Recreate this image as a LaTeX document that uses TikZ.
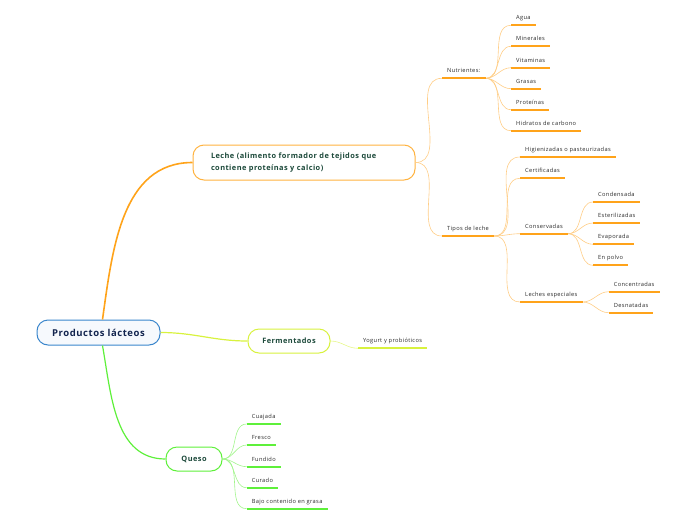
\documentclass[tikz,border=0pt]{standalone}
\usepackage{fontspec}
\setmainfont{Open Sans}[LetterSpace=6]
\usepackage{xcolor}
\usetikzlibrary{arrows.meta,positioning}

\definecolor{rootblue}{HTML}{3A86CC}
\definecolor{rootfill}{HTML}{F6F9FD}
\definecolor{rootink}{HTML}{13254F}
\definecolor{mainink}{HTML}{1D4A3B}
\definecolor{subink}{HTML}{2A2A2A}
\definecolor{orline}{HTML}{FFA31A}
\definecolor{orbox}{HTML}{FFB340}
\definecolor{ortwig}{HTML}{FFCD85}
\definecolor{ferline}{HTML}{D8F23E}
\definecolor{fertwig}{HTML}{E6F78A}
\definecolor{qline}{HTML}{5EF03A}
\definecolor{qtwig}{HTML}{A2F58C}

\begin{document}
\begin{tikzpicture}[
  x=1pt, y=-1pt,
  root/.style={draw=rootblue, line width=1pt, rounded corners=11pt, fill=rootfill, minimum width=123pt, minimum height=25pt, font=\fontsize{9.5}{11}\selectfont\bfseries, text=rootink},
  topic/.style={draw=#1, line width=1pt, rounded corners=11pt, fill=white, font=\fontsize{7.4}{11.5}\selectfont\bfseries, text=mainink},
  sub/.style={anchor=south west, inner xsep=5pt, inner ysep=4pt, text height=4.3pt, text depth=1.5pt, font=\fontsize{5.7}{7}\selectfont, text=subink},
  uline/.style={draw=#1, line width=1.7pt},
  twig/.style={draw=#1, line width=0.6pt}
]
\useasboundingbox (0,0) rectangle (696,520);

% central topic and main branches
\node[root] (prod) at (98.5,332.5) {Productos lácteos};
\node[topic=orbox, minimum width=222pt, minimum height=35pt, inner xsep=18pt, text width=186pt, align=left] (leche) at (304,162.5) {Leche (alimento formador de tejidos que\\contiene proteínas y calcio)};
\node[topic=ferline, minimum width=82pt, minimum height=24pt] (ferm) at (289,341) {Fermentados};
\node[topic=qline, minimum width=56pt, minimum height=24pt] (queso) at (194,459) {Queso};

\draw[orline, line width=1.6pt] (prod.north) ++(4,0) to[out=82, in=180] (leche.west);
\draw[ferline, line width=1.2pt] (prod.east) to[out=0, in=180] (ferm.west);
\draw[qline, line width=1.2pt] (prod.south) ++(4,0) to[out=-80, in=180] (queso.west);

% leche
\node[sub] (nutr) at (442,78.3) {Nutrientes:};
\node[sub] (tipos) at (442,236) {Tipos de leche};
\node[sub] (agua) at (511,25.3) {Agua};
\node[sub] (miner) at (511,46.3) {Minerales};
\node[sub] (vitam) at (511,67.7) {Vitaminas};
\node[sub] (grasa) at (511,88.7) {Grasas};
\node[sub] (prote) at (511,109.7) {Proteínas};
\node[sub] (hidra) at (511,130.7) {Hidratos de carbono};
\node[sub] (higie) at (520,157) {Higienizadas o pasteurizadas};
\node[sub] (certi) at (520,178.3) {Certificadas};
\node[sub] (conse) at (520,233.7) {Conservadas};
\node[sub] (espec) at (520,302) {Leches especiales};
\node[sub] (conde) at (593,202) {Condensada};
\node[sub] (ester) at (593,223) {Esterilizadas};
\node[sub] (evapo) at (593,244.3) {Evaporada};
\node[sub] (polvo) at (593,265.3) {En polvo};
\node[sub] (conce) at (608.7,291.7) {Concentradas};
\node[sub] (desna) at (608.7,312.7) {Desnatadas};

\foreach \n in {nutr,tipos}
  \draw[twig=ortwig] (leche.east) to[out=0, in=180] (\n.south west);
\foreach \n in {agua,miner,vitam,grasa,prote,hidra}
  \draw[twig=ortwig] (nutr.south east) to[out=0, in=180] (\n.south west);
\foreach \n in {higie,certi,conse,espec}
  \draw[twig=ortwig] (tipos.south east) to[out=0, in=180] (\n.south west);
\foreach \n in {conde,ester,evapo,polvo}
  \draw[twig=ortwig] (conse.south east) to[out=0, in=180] (\n.south west);
\foreach \n in {conce,desna}
  \draw[twig=ortwig] (espec.south east) to[out=0, in=180] (\n.south west);
\foreach \n in {nutr,tipos,agua,miner,vitam,grasa,prote,hidra,higie,certi,conse,espec,conde,ester,evapo,polvo,conce,desna}
  \draw[uline=orline] (\n.south west) -- (\n.south east);

% fermentados
\node[sub] (yogur) at (358,348.3) {Yogurt y probióticos};
\draw[twig=fertwig] (ferm.east) to[out=0, in=180] (yogur.south west);
\draw[uline=ferline] (yogur.south west) -- (yogur.south east);

% queso
\node[sub] (cuaja) at (246.7,424) {Cuajada};
\node[sub] (fresc) at (246.7,445) {Fresco};
\node[sub] (fundi) at (246.7,466.7) {Fundido};
\node[sub] (curad) at (246.7,487.7) {Curado};
\node[sub] (bajo) at (246.7,508.7) {Bajo contenido en grasa};
\foreach \n in {cuaja,fresc,fundi,curad,bajo} {
  \draw[twig=qtwig] (queso.east) to[out=0, in=180] (\n.south west);
  \draw[uline=qline] (\n.south west) -- (\n.south east);
}
\end{tikzpicture}
\end{document}
